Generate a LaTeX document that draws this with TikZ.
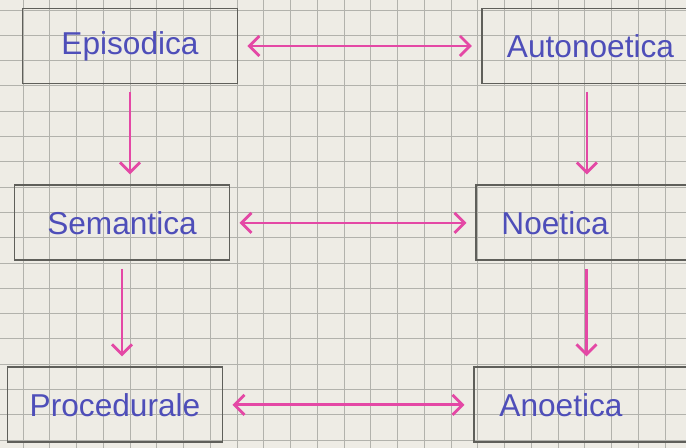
\documentclass[tikz,border=0pt]{standalone}
\usepackage{fontspec}
\setmainfont{Liberation Sans}
\usetikzlibrary{positioning,arrows.meta}

\definecolor{paper}{RGB}{238,236,229}
\definecolor{gridgray}{RGB}{178,178,172}
\definecolor{ink}{RGB}{78,78,185}
\definecolor{marker}{RGB}{228,72,165}
\definecolor{frame}{RGB}{95,95,90}

\begin{document}
\begin{tikzpicture}[node distance=2cm,
    >={Straight Barb[length=0.2cm,width=0.4cm]},
    box/.style={rectangle, draw=frame, line width=1.1pt, minimum width=4.3cm, minimum height=1.5cm, text=ink, font=\fontsize{18}{22}\selectfont},
    widebox/.style={box, text width=3.6cm, inner xsep=0.5cm, align=left},
    twoway/.style={<->, draw=marker, line width=1.6pt, shorten <=0.18cm, shorten >=0.18cm},
    oneway/.style={->, draw=marker, line width=1.6pt, shorten <=0.15cm, shorten >=0.2cm}]
    \useasboundingbox (0,0) rectangle (13.72,-8.96);
    \clip (0,0) rectangle (13.72,-8.96);
    % squared paper
    \fill[paper] (0,0) rectangle (13.72,-8.96);
    \draw[gridgray, line width=0.5pt, xstep=0.535cm, ystep=0.506cm, shift={(0.46,-0.2)}] (-1,-10) grid (14,1);

    \node[box] (epi) at (2.6,-0.92) {Episodica};
    \node[box, below=2cm of epi, xshift=-0.16cm] (sem) {Semantica};
    \node[box, below=2.1cm of sem, xshift=-0.14cm] (pro) {Procedurale};
    \node[widebox, right=4.85cm of epi] (aut) {Autonoetica};
    \node[widebox, right=4.9cm of sem] (noe) {Noetica};
    \node[widebox, right=5cm of pro] (ano) {Anoetica};

    \draw[twoway] (epi) -- (aut);
    \draw[twoway] (sem) -- (noe);
    \draw[twoway] (pro) -- (ano);
    \draw[oneway] (epi.south) -- (epi.south |- sem.north);
    \draw[oneway] (sem.south) -- (sem.south |- pro.north);
    \draw[oneway] ([xshift=-2mm]aut.south) -- ([xshift=-2mm]aut.south |- noe.north);
    \draw[oneway] ([xshift=-1mm]noe.south) -- ([xshift=-1mm]noe.south |- ano.north);
\end{tikzpicture}
\end{document}
